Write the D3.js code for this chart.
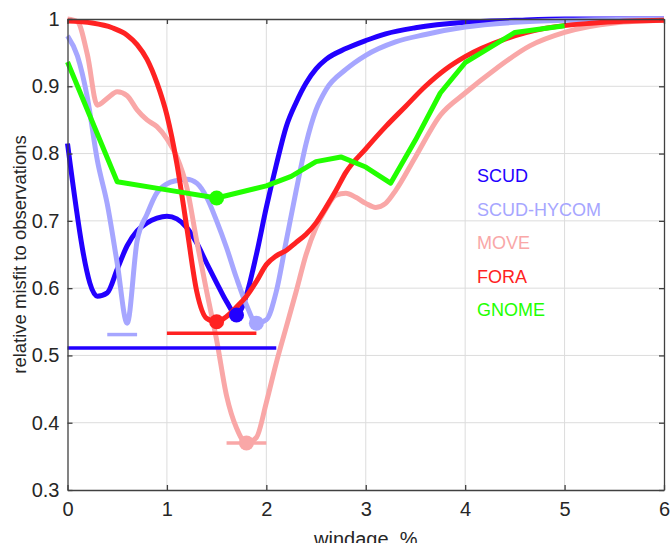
<!DOCTYPE html>
<html lang="en">
<head>
<meta charset="UTF-8">
<title>windage misfit</title>
<script src="https://d3js.org/d3.v7.min.js"></script>
<style>
    body { margin: 0; background: #fff; }
    svg { display: block; font-family: "Liberation Sans", Arial, sans-serif; }
    .grid line { stroke: #dcdcdc; stroke-width: 1; }
    .ax path, .ax line { stroke: #404040; stroke-width: 1.3; }
    .ax text { font-size: 20px; fill: #262626; }
</style>
</head>
<body>
<svg id="canvas" width="670" height="543"></svg>
<script>
// series names / colours (legend order = draw order)
let names = ['SCUD', 'SCUD-HYCOM', 'MOVE', 'FORA', 'GNOME'];
let colors = ['#2200ff', '#a6a6ff', '#f9a7a7', '#ff2222', '#22ff00'];

// curves
let scudX = [0, 0.3, 0.4, 0.5, 0.6, 0.7, 0.8, 0.9, 1.0, 1.1, 1.2, 1.3, 1.4, 1.5, 1.6, 1.7, 1.8, 1.9, 2.0, 2.1, 2.2, 2.3, 2.4, 2.5, 2.6, 2.8, 3.0, 3.2, 3.5, 4.0, 4.5, 5.0, 6.0];
let scudY = [0.815, 0.588, 0.593, 0.628, 0.663, 0.685, 0.697, 0.704, 0.707, 0.703, 0.69, 0.667, 0.637, 0.608, 0.58, 0.56, 0.59, 0.65, 0.72, 0.783, 0.84, 0.876, 0.905, 0.926, 0.94, 0.956, 0.968, 0.978, 0.987, 0.995, 0.998, 1.0, 1.0];

let hycomX = [0, 0.1, 0.2, 0.3, 0.4, 0.5, 0.6, 0.7, 0.8, 0.9, 1.0, 1.1, 1.2, 1.3, 1.4, 1.5, 1.6, 1.7, 1.8, 1.9, 2.0, 2.1, 2.2, 2.3, 2.4, 2.5, 2.6, 2.8, 3.0, 3.3, 3.6, 4.0, 4.5, 5.0, 6.0];
let hycomY = [0.975, 0.945, 0.883, 0.79, 0.725, 0.637, 0.548, 0.67, 0.71, 0.742, 0.755, 0.76, 0.762, 0.756, 0.735, 0.7, 0.66, 0.615, 0.575, 0.548, 0.553, 0.595, 0.67, 0.745, 0.815, 0.865, 0.895, 0.925, 0.946, 0.966, 0.977, 0.988, 0.995, 0.998, 1.0];

let moveX = [0, 0.1, 0.2, 0.3, 0.4, 0.5, 0.6, 0.7, 0.8, 0.9, 1.0, 1.1, 1.2, 1.3, 1.4, 1.5, 1.6, 1.7, 1.8, 1.9, 2.0, 2.1, 2.2, 2.3, 2.4, 2.5, 2.6, 2.7, 2.8, 2.9, 3.0, 3.1, 3.2, 3.3, 3.5, 3.75, 4.0, 4.3, 4.65, 5.0, 5.5, 6.0];
let moveY = [1.0, 0.996, 0.947, 0.872, 0.882, 0.892, 0.886, 0.865, 0.85, 0.84, 0.822, 0.795, 0.75, 0.67, 0.595, 0.523, 0.44, 0.392, 0.37, 0.378, 0.43, 0.489, 0.542, 0.595, 0.65, 0.69, 0.718, 0.738, 0.741, 0.735, 0.726, 0.72, 0.726, 0.745, 0.795, 0.857, 0.89, 0.925, 0.96, 0.98, 0.994, 0.998];

let foraX = [0, 0.25, 0.45, 0.6, 0.7, 0.8, 0.9, 1.0, 1.1, 1.2, 1.3, 1.4, 1.5, 1.6, 1.7, 1.8, 1.9, 2.0, 2.1, 2.2, 2.3, 2.4, 2.5, 2.6, 2.7, 2.8, 3.0, 3.2, 3.4, 3.6, 3.8, 4.0, 4.4, 4.8, 5.3, 6.0];
let foraY = [0.997, 0.994, 0.987, 0.976, 0.962, 0.94, 0.905, 0.857, 0.785, 0.69, 0.595, 0.555, 0.55, 0.558, 0.572, 0.588, 0.61, 0.635, 0.648, 0.656, 0.668, 0.68, 0.697, 0.72, 0.745, 0.772, 0.807, 0.84, 0.87, 0.9, 0.925, 0.944, 0.97, 0.986, 0.994, 0.998];

let gnomeX = [0, 0.5, 1.0, 1.5, 2.0, 2.25, 2.5, 2.75, 3.0, 3.25, 3.5, 3.75, 4.0, 4.5, 5.0];
let gnomeY = [0.936, 0.758, 0.746, 0.734, 0.752, 0.766, 0.788, 0.795, 0.78, 0.756, 0.82, 0.89, 0.935, 0.98, 0.99];

// best windage (markers) and ranges (horizontal bars)
let bestX = [1.7, 1.9, 1.8, 1.5, 1.5];
let bestY = [0.56, 0.548, 0.37, 0.55, 0.734];
let rangeLo = [0.0, 0.4, 1.6, 1.0, null];
let rangeHi = [2.1, 0.7, 2.0, 1.9, null];
let rangeY = [0.511, 0.531, 0.37, 0.533, null];

let xTicks = [0, 1, 2, 3, 4, 5, 6];
let yTicks = [0.3, 0.4, 0.5, 0.6, 0.7, 0.8, 0.9, 1];

let series = [[scudX, scudY], [hycomX, hycomY], [moveX, moveY], [foraX, foraY], [gnomeX, gnomeY]];

let svg = d3.select('svg');
let mLeft = 67.5, mRight = 664, mTop = 19, mBottom = 490;

let x = d3.scaleLinear().domain([0, 6]).range([mLeft, mRight]);
let y = d3.scaleLinear().domain([0.3, 1]).range([mBottom, mTop]);

// grid
let grid = svg.append('g').attr('class', 'grid');
grid.selectAll('.gx').data(xTicks.slice(1, -1)).enter().append('line')
    .attr('x1', d => x(d)).attr('x2', d => x(d)).attr('y1', mTop).attr('y2', mBottom);
grid.selectAll('.gy').data(yTicks.slice(1, -1)).enter().append('line')
    .attr('y1', d => y(d)).attr('y2', d => y(d)).attr('x1', mLeft).attr('x2', mRight);

// curves
let plot = svg.append('g');
series.forEach(function (s, i) {
    let pts = s[0].map((v, j) => [v, s[1][j]]);
    let line = d3.line()
        .x(d => x(d[0])).y(d => y(d[1]))
        .curve(i == 4 ? d3.curveLinear : d3.curveMonotoneX);
    plot.append('path')
        .datum(pts)
        .attr('d', line)
        .attr('fill', 'none')
        .attr('stroke', colors[i])
        .attr('stroke-width', 5)
        .attr('stroke-linejoin', 'round');
});

// ranges
names.forEach(function (n, i) {
    if (rangeLo[i] == null) return;
    plot.append('line')
        .attr('x1', x(rangeLo[i])).attr('x2', x(rangeHi[i]))
        .attr('y1', y(rangeY[i])).attr('y2', y(rangeY[i]))
        .attr('stroke', colors[i]).attr('stroke-width', 3.5);
});

// markers
names.forEach(function (n, i) {
    plot.append('circle')
        .attr('cx', x(bestX[i])).attr('cy', y(bestY[i]))
        .attr('r', 7.5).attr('fill', colors[i]);
});

// axes (box with inward ticks on all sides)
svg.append('g').attr('class', 'ax')
    .attr('transform', 'translate(0,' + mBottom + ')')
    .call(d3.axisBottom(x).tickValues(xTicks).tickSize(-5).tickSizeOuter(0).tickPadding(12).tickFormat(d3.format('d')));
svg.append('g').attr('class', 'ax')
    .attr('transform', 'translate(0,' + mTop + ')')
    .call(d3.axisTop(x).tickValues(xTicks).tickSize(-5).tickSizeOuter(0).tickFormat(''));
svg.append('g').attr('class', 'ax')
    .attr('transform', 'translate(' + mLeft + ',0)')
    .call(d3.axisLeft(y).tickValues(yTicks).tickSize(-5).tickSizeOuter(0).tickPadding(8).tickFormat(d => d == 1 ? '1' : d3.format('.1f')(d)));
svg.append('g').attr('class', 'ax')
    .attr('transform', 'translate(' + mRight + ',0)')
    .call(d3.axisRight(y).tickValues(yTicks).tickSize(-5).tickSizeOuter(0).tickFormat(''));

// axis titles
svg.append('text')
    .attr('x', (mLeft + mRight) / 2).attr('y', 546)
    .attr('text-anchor', 'middle').attr('font-size', 20).attr('fill', '#262626')
    .text('windage, %');
svg.append('text')
    .attr('transform', 'translate(26,' + (mTop + mBottom) / 2 + ') rotate(-90)')
    .attr('text-anchor', 'middle').attr('font-size', 18.5).attr('fill', '#262626')
    .text('relative misfit to observations');

// legend text
names.forEach(function (n, i) {
    svg.append('text')
        .attr('x', 477).attr('y', 182 + i * 33.5)
        .attr('font-size', 18).attr('fill', colors[i])
        .text(n);
});
</script>
</body>
</html>
